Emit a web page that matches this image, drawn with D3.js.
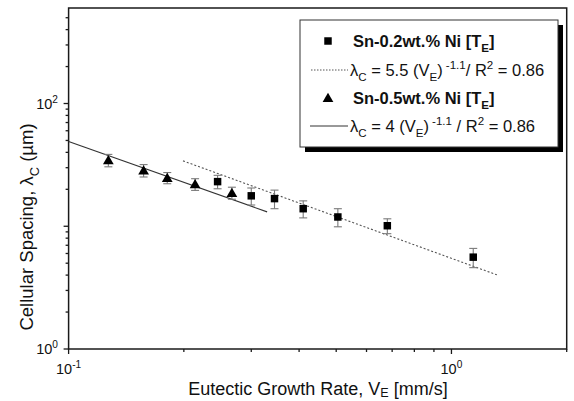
<!DOCTYPE html>
<meta charset="utf-8" />
<script src="https://d3js.org/d3.v7.min.js"></script>
<style>
  body { margin: 0; background: #fff; }
  text { font-family: "Liberation Sans", Arial, sans-serif; fill: #111; }
</style>
<body>
<div id="chart"></div>
<script>
// Sn-0.2wt.% Ni (squares)
const sqRate = [0.245, 0.30, 0.345, 0.41, 0.505, 0.68, 1.14];
const sqSpacing = [23.1, 17.7, 16.8, 13.9, 11.9, 10.1, 5.6];
const sqErr = [2.9, 2.8, 2.9, 2.2, 2.0, 1.4, 1.0];
// Sn-0.5wt.% Ni (triangles)
const triRate = [0.127, 0.157, 0.181, 0.214, 0.267];
const triSpacing = [34.5, 28.5, 24.8, 22.0, 18.7];
const triErr = [4.0, 3.3, 2.6, 2.4, 2.1];
// fit lines (end points)
const fitSqRate = [0.199, 1.314];
const fitSqSpacing = [34.1, 4.02];
const fitTriRate = [0.1, 0.33];
const fitTriSpacing = [49, 13.1];
// labelled ticks
const xMajor = [[0.1, "-1"], [1, "0"]];
const yMajor = [[1, "0"], [100, "2"]];

const W = 574, H = 401;
const m = { left: 68.6, top: 8, right: 7.3, bottom: 52 };

const svg = d3.select("#chart").append("svg")
  .attr("width", W).attr("height", H);

const x = d3.scaleLog().domain([0.1, 2]).range([m.left, W - m.right]);
const y = d3.scaleLog().domain([1, 600]).range([H - m.bottom, m.top]);

const ink = "#1a1a1a";

// minor / major ticks
const isMajor = v => Math.abs(Math.log10(v) - Math.round(Math.log10(v))) < 1e-9;
svg.append("g").selectAll("line")
  .data(y.ticks().filter(v => v < 600))
  .join("line")
  .attr("x1", m.left).attr("x2", d => m.left - (isMajor(d) ? 5 : 3))
  .attr("y1", d => y(d)).attr("y2", d => y(d))
  .attr("stroke", ink).attr("stroke-width", 1.3);
svg.append("g").selectAll("line")
  .data(x.ticks())
  .join("line")
  .attr("x1", d => x(d)).attr("x2", d => x(d))
  .attr("y1", H - m.bottom).attr("y2", d => H - m.bottom + (isMajor(d) ? 5 : 3))
  .attr("stroke", ink).attr("stroke-width", 1.3);

// frame
svg.append("rect")
  .attr("x", m.left).attr("y", m.top)
  .attr("width", W - m.left - m.right).attr("height", H - m.top - m.bottom)
  .attr("fill", "none").attr("stroke", ink).attr("stroke-width", 1.5);

// rich text helper: parts = [[text, "sub"|"sup"|""]]
function rich(g, parts, size, subShift = 0.3) {
  const t = g.append("text").attr("font-size", size);
  let shift = 0;
  parts.forEach(([s, kind]) => {
    const target = kind === "sub" ? size * subShift : kind === "sup" ? -size * 0.4 : 0;
    t.append("tspan")
      .attr("dy", target - shift)
      .attr("font-size", kind ? size * 0.7 : size)
      .text(s);
    shift = target;
  });
  return t;
}

// tick labels
yMajor.forEach(([v, e]) => {
  rich(svg, [["10", ""], [e, "sup"]], 14.5)
    .attr("x", 58).attr("y", y(v) + 5).attr("text-anchor", "end");
});
xMajor.forEach(([v, e]) => {
  rich(svg, [["10", ""], [e, "sup"]], 14.5)
    .attr("x", x(v)).attr("y", 374).attr("text-anchor", "middle");
});

// axis titles
rich(svg, [["Eutectic Growth Rate, V", ""], ["E", "sub"], [" [mm/s]", ""]], 18, 0.12)
  .attr("x", 318).attr("y", 395).attr("text-anchor", "middle");
rich(svg.append("g").attr("transform", "translate(33,227) rotate(-90)"),
  [["Cellular Spacing, λ", ""], ["C", "sub"], [" (µm)", ""]], 18.5)
  .attr("text-anchor", "middle");

// fit lines
const line = d3.line().x(d => x(d[0])).y(d => y(d[1]));
svg.append("path")
  .attr("d", line(d3.zip(fitTriRate, fitTriSpacing)))
  .attr("fill", "none").attr("stroke", "#333").attr("stroke-width", 1.1);
svg.append("path")
  .attr("d", line(d3.zip(fitSqRate, fitSqSpacing)))
  .attr("fill", "none").attr("stroke", "#555").attr("stroke-width", 1.1)
  .attr("stroke-dasharray", "2,2");

// error bars
function errBars(rate, val, err) {
  const g = svg.append("g").attr("stroke", "#7a7a7a").attr("stroke-width", 1.1);
  rate.forEach((r, i) => {
    const cx = x(r), top = y(val[i] + err[i]), bot = y(val[i] - err[i]);
    g.append("line").attr("x1", cx).attr("x2", cx).attr("y1", top).attr("y2", bot);
    g.append("line").attr("x1", cx - 4).attr("x2", cx + 4).attr("y1", top).attr("y2", top);
    g.append("line").attr("x1", cx - 4).attr("x2", cx + 4).attr("y1", bot).attr("y2", bot);
  });
}
errBars(sqRate, sqSpacing, sqErr);
errBars(triRate, triSpacing, triErr);

const tri = d3.symbol(d3.symbolTriangle, 50);
const sq = d3.symbol(d3.symbolSquare, 56);

svg.append("g").selectAll("path")
  .data(d3.zip(sqRate, sqSpacing))
  .join("path")
  .attr("d", sq)
  .attr("transform", d => `translate(${x(d[0])},${y(d[1])})`)
  .attr("fill", "#000");
svg.append("g").selectAll("path")
  .data(d3.zip(triRate, triSpacing))
  .join("path")
  .attr("d", tri)
  .attr("transform", d => `translate(${x(d[0])},${y(d[1]) + 1})`)
  .attr("fill", "#000");

// legend
const lg = svg.append("g");
lg.append("rect").attr("x", 305).attr("y", 25).attr("width", 258).attr("height", 127)
  .attr("fill", "#000");
lg.append("rect").attr("x", 300).attr("y", 20).attr("width", 258).attr("height", 127)
  .attr("fill", "#fff").attr("stroke", "#333").attr("stroke-width", 1);

const rows = [41, 70, 98, 126];
const fs = 16.5;
lg.append("path").attr("d", sq).attr("transform", `translate(328,${rows[0]})`).attr("fill", "#000");
lg.append("path").attr("d", tri).attr("transform", `translate(328,${rows[2] + 1})`).attr("fill", "#000");
lg.append("line").attr("x1", 311).attr("x2", 348).attr("y1", rows[1]).attr("y2", rows[1])
  .attr("stroke", "#555").attr("stroke-dasharray", "1.5,1.5");
lg.append("line").attr("x1", 310).attr("x2", 348).attr("y1", rows[3]).attr("y2", rows[3])
  .attr("stroke", "#333");

rich(lg, [["Sn-0.2wt.% Ni [T", ""], ["E", "sub"], ["]", ""]], fs)
  .attr("x", 353).attr("y", rows[0] + 6).attr("font-weight", "bold");
rich(lg, [["Sn-0.5wt.% Ni [T", ""], ["E", "sub"], ["]", ""]], fs)
  .attr("x", 353).attr("y", rows[2] + 6).attr("font-weight", "bold");
rich(lg, [["λ", ""], ["C", "sub"], [" = 5.5 (V", ""], ["E", "sub"], [")", ""],
  [" -1.1", "sup"], ["/ R", ""], ["2", "sup"], [" = 0.86", ""]], fs)
  .attr("x", 350).attr("y", rows[1] + 6);
rich(lg, [["λ", ""], ["C", "sub"], [" = 4 (V", ""], ["E", "sub"], [")", ""],
  [" -1.1", "sup"], [" / R", ""], ["2", "sup"], [" = 0.86", ""]], fs)
  .attr("x", 350).attr("y", rows[3] + 6);
</script>
</body>
